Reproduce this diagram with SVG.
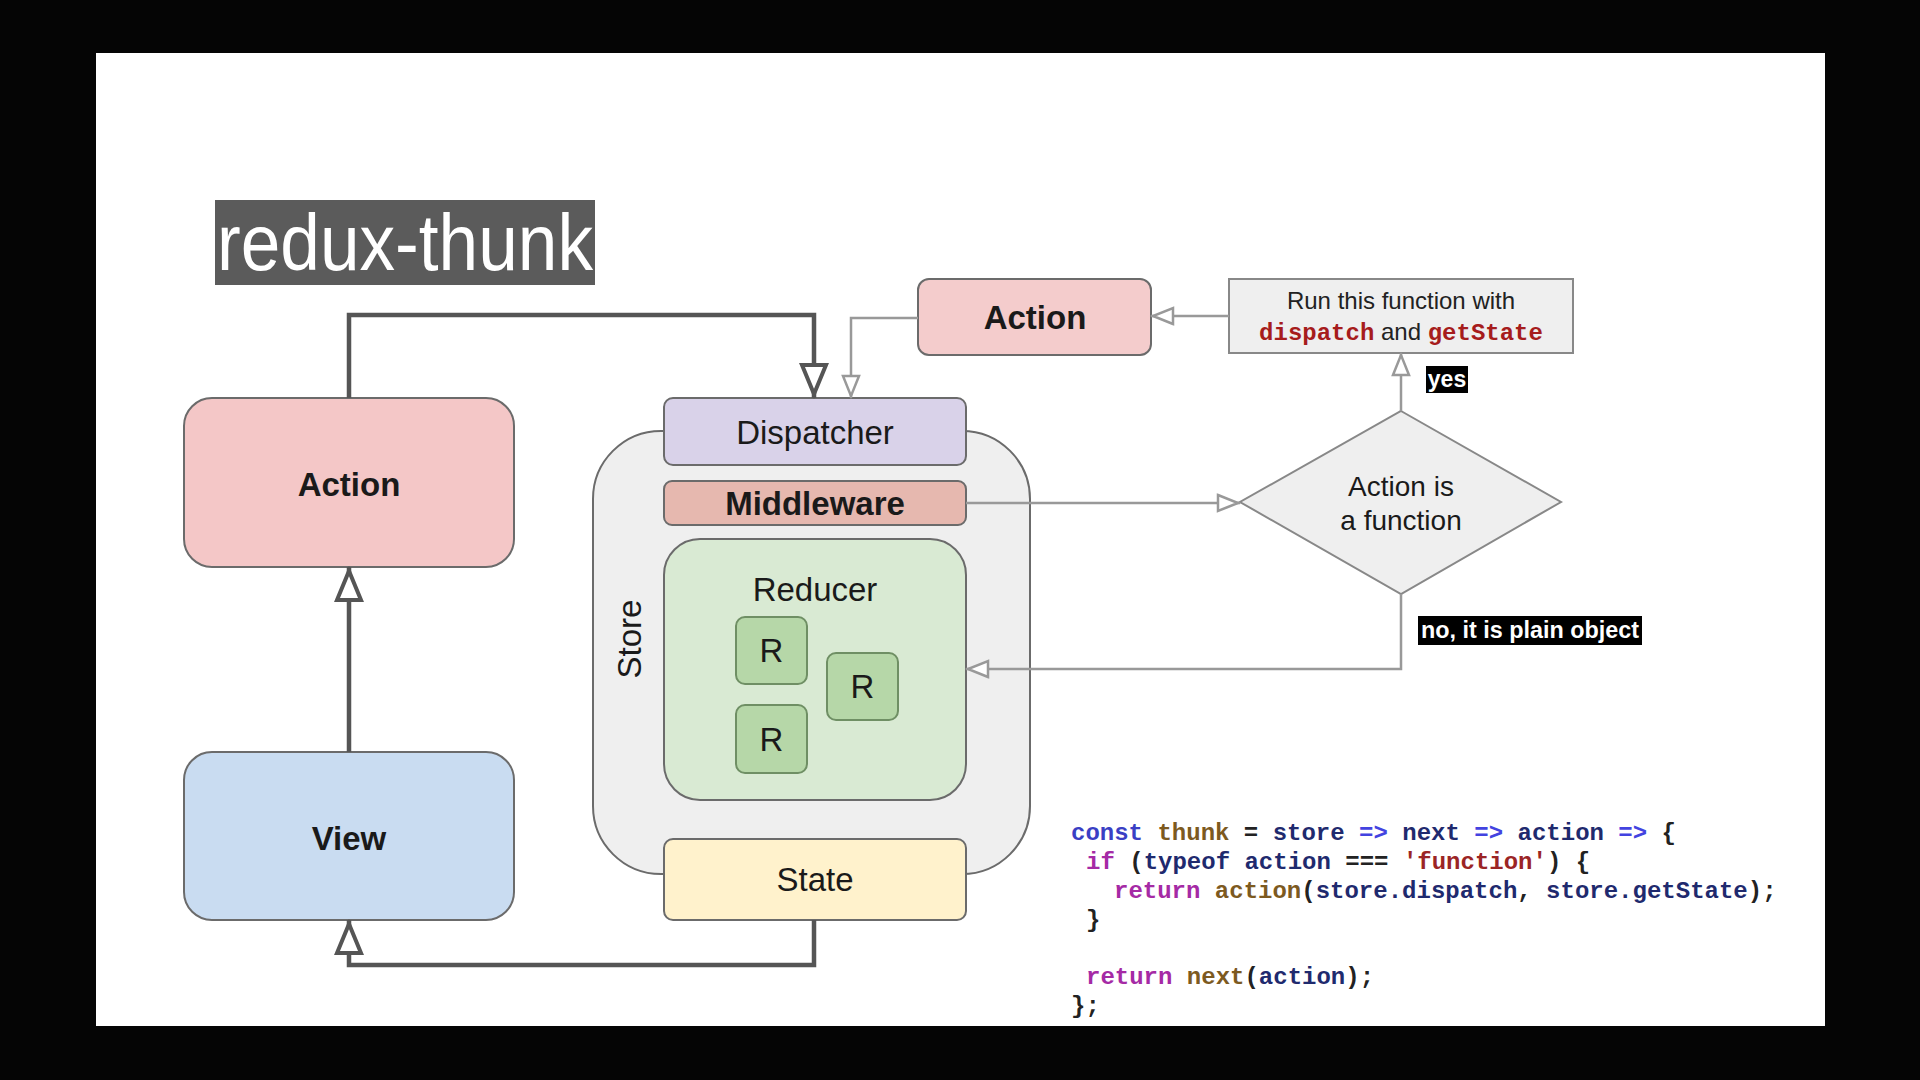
<svg xmlns="http://www.w3.org/2000/svg" width="1920" height="1080" viewBox="0 0 1920 1080">
<style>
.box{stroke:#6b6b6b;stroke-width:2}
.lbl{font-family:"Liberation Sans",Arial,sans-serif;font-size:33px;fill:#1a1a1a;text-anchor:middle}
.b{font-weight:bold}
.dk{fill:none;stroke:#555;stroke-width:4.5}
.gr{fill:none;stroke:#999;stroke-width:2.5}
.tag{font-family:"Liberation Sans",Arial,sans-serif;font-size:23px;font-weight:bold;fill:#fff;text-anchor:middle}
.code{font-family:"Liberation Mono","Courier New",monospace;font-size:24px;font-weight:bold;fill:#222}
.kw{fill:#3a3fc4}
.ar{fill:#4343e0}
.id{fill:#1f2a6e}
.fn{fill:#7d5a1f}
.mg{fill:#a52aa5}
.st{fill:#9b2525}
.mono{font-family:"Liberation Mono","Courier New",monospace;font-weight:bold;fill:#a61c1c}
</style>
<defs>
<marker id="arrDark" markerUnits="userSpaceOnUse" markerWidth="40" markerHeight="40" refX="0" refY="0" orient="auto" overflow="visible"><path d="M-33,-12 L-4,0 L-33,12 Z" fill="#fff" stroke="#555" stroke-width="4"/></marker>
<marker id="arrGrey" markerUnits="userSpaceOnUse" markerWidth="30" markerHeight="30" refX="0" refY="0" orient="auto" overflow="visible"><path d="M-22,-8 L-2,0 L-22,8 Z" fill="#fff" stroke="#999" stroke-width="2.5"/></marker>
</defs>
<rect x="0" y="0" width="1920" height="1080" fill="#050505"/>
<rect x="96" y="53" width="1729" height="973" fill="#fff"/>

<g id="title">
<rect x="215" y="200" width="380" height="85" fill="#5b5b5b"/>
<text x="405" y="270" font-family="Liberation Sans,Arial,sans-serif" font-size="80" fill="#fff" text-anchor="middle" textLength="376" lengthAdjust="spacingAndGlyphs">redux-thunk</text>
</g>

<g id="action-left">
<rect class="box" x="184" y="398" width="330" height="169" rx="28" fill="#f4c7c7"/>
<text class="lbl b" x="349" y="496">Action</text>
</g>
<g id="view">
<rect class="box" x="184" y="752" width="330" height="168" rx="28" fill="#c9dcf1"/>
<text class="lbl b" x="349" y="850">View</text>
</g>

<g id="store">
<rect class="box" x="593" y="431" width="437" height="443" rx="68" fill="#efefef"/>
<text class="lbl" transform="translate(641,639) rotate(-90)" x="0" y="0">Store</text>
</g>
<g id="dispatcher">
<rect class="box" x="664" y="398" width="302" height="67" rx="9" fill="#d9d2e9"/>
<text class="lbl" x="815" y="444">Dispatcher</text>
</g>
<g id="middleware">
<rect class="box" x="664" y="481" width="302" height="44" rx="8" fill="#e6b8af"/>
<text class="lbl b" x="815" y="515">Middleware</text>
</g>
<g id="reducer">
<rect class="box" x="664" y="539" width="302" height="261" rx="36" fill="#d9ead3"/>
<text class="lbl" x="815" y="601">Reducer</text>
</g>
<g id="r1">
<rect x="736" y="617" width="71" height="67" rx="9" fill="#b6d7a8" stroke="#6f8f64" stroke-width="2"/>
<text class="lbl" x="771.5" y="662">R</text>
</g>
<g id="r2">
<rect x="827" y="653" width="71" height="67" rx="9" fill="#b6d7a8" stroke="#6f8f64" stroke-width="2"/>
<text class="lbl" x="862.5" y="698">R</text>
</g>
<g id="r3">
<rect x="736" y="705" width="71" height="68" rx="9" fill="#b6d7a8" stroke="#6f8f64" stroke-width="2"/>
<text class="lbl" x="771.5" y="751">R</text>
</g>
<g id="state">
<rect class="box" x="664" y="839" width="302" height="81" rx="9" fill="#fff2cc"/>
<text class="lbl" x="815" y="891">State</text>
</g>

<g id="action-right">
<rect class="box" x="918" y="279" width="233" height="76" rx="11" fill="#f4cccc"/>
<text class="lbl b" x="1035" y="329">Action</text>
</g>
<g id="run-function">
<rect x="1229" y="279" width="344" height="74" fill="#efefef" stroke="#888" stroke-width="2"/>
<text x="1401" y="309" font-family="Liberation Sans,Arial,sans-serif" font-size="24" fill="#222" text-anchor="middle">Run this function with</text>
<text x="1401" y="340" font-family="Liberation Sans,Arial,sans-serif" font-size="24" fill="#222" text-anchor="middle"><tspan class="mono">dispatch</tspan> and <tspan class="mono">getState</tspan></text>
</g>
<g id="decision">
<polygon points="1401,411 1561,502 1401,594 1240,502" fill="#efefef" stroke="#888" stroke-width="2"/>
<text x="1401" y="496" font-family="Liberation Sans,Arial,sans-serif" font-size="28" fill="#1a1a1a" text-anchor="middle">Action is</text>
<text x="1401" y="530" font-family="Liberation Sans,Arial,sans-serif" font-size="28" fill="#1a1a1a" text-anchor="middle">a function</text>
</g>

<g id="connectors">
<path class="dk" d="M349,752 L349,567" marker-end="url(#arrDark)"/>
<path class="dk" d="M349,398 L349,315 L814,315 L814,398" marker-end="url(#arrDark)"/>
<path class="dk" d="M814,920 L814,965 L349,965 L349,920" marker-end="url(#arrDark)"/>
<path class="gr" d="M918,318 L851,318 L851,398" marker-end="url(#arrGrey)"/>
<path class="gr" d="M1229,316 L1151,316" marker-end="url(#arrGrey)"/>
<path class="gr" d="M966,503 L1240,503" marker-end="url(#arrGrey)"/>
<path class="gr" d="M1401,411 L1401,353" marker-end="url(#arrGrey)"/>
<path class="gr" d="M1401,594 L1401,669 L966,669" marker-end="url(#arrGrey)"/>
</g>

<g id="label-yes">
<rect x="1426" y="366" width="42" height="27" fill="#000"/>
<text class="tag" x="1447" y="387">yes</text>
</g>
<g id="label-no">
<rect x="1418" y="616" width="224" height="29" fill="#000"/>
<text class="tag" x="1530" y="638" textLength="218" lengthAdjust="spacingAndGlyphs">no, it is plain object</text>
</g>

<g id="code">
<text class="code" x="1071" y="840"><tspan class="kw">const</tspan> <tspan class="fn">thunk</tspan> = <tspan class="id">store</tspan> <tspan class="ar">=&gt;</tspan> <tspan class="id">next</tspan> <tspan class="ar">=&gt;</tspan> <tspan class="id">action</tspan> <tspan class="ar">=&gt;</tspan> {</text>
<text class="code" x="1086" y="869"><tspan class="mg">if</tspan> (<tspan class="id">typeof</tspan> <tspan class="id">action</tspan> === <tspan class="st">'function'</tspan>) {</text>
<text class="code" x="1114" y="898"><tspan class="mg">return</tspan> <tspan class="fn">action</tspan>(<tspan class="id">store.dispatch</tspan>, <tspan class="id">store.getState</tspan>);</text>
<text class="code" x="1086" y="927">}</text>
<text class="code" x="1086" y="984"><tspan class="mg">return</tspan> <tspan class="fn">next</tspan>(<tspan class="id">action</tspan>);</text>
<text class="code" x="1071" y="1013">};</text>
</g>
</svg>
